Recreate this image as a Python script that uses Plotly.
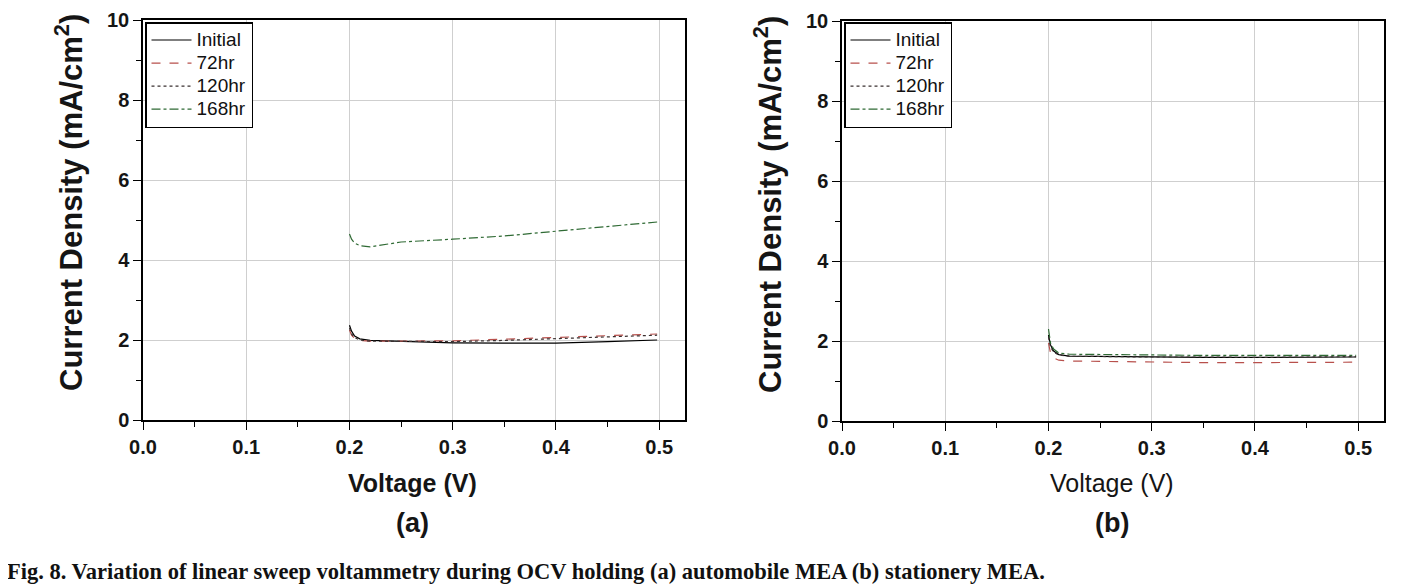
import plotly.graph_objects as go

# ---------------- data ----------------
series_names = ["Initial", "72hr", "120hr", "168hr"]

voltage_a = [0.200, 0.202, 0.205, 0.210, 0.220, 0.250, 0.300, 0.350, 0.400, 0.450, 0.498]
initial_a = [2.37, 2.22, 2.10, 2.03, 1.99, 1.97, 1.93, 1.92, 1.92, 1.96, 2.00]
hr72_a    = [2.25, 2.12, 2.04, 1.99, 1.97, 1.97, 1.98, 2.02, 2.06, 2.10, 2.15]
hr120_a   = [2.30, 2.15, 2.06, 2.00, 1.97, 1.96, 1.96, 1.99, 2.03, 2.07, 2.12]
hr168_a   = [4.65, 4.52, 4.42, 4.36, 4.33, 4.45, 4.52, 4.60, 4.72, 4.83, 4.95]

voltage_b = [0.200, 0.202, 0.205, 0.210, 0.220, 0.250, 0.300, 0.350, 0.400, 0.450, 0.498]
initial_b = [2.15, 1.90, 1.75, 1.66, 1.62, 1.61, 1.60, 1.59, 1.59, 1.59, 1.60]
hr72_b    = [1.95, 1.70, 1.58, 1.52, 1.50, 1.49, 1.47, 1.46, 1.46, 1.46, 1.47]
hr120_b   = [2.10, 1.85, 1.72, 1.65, 1.62, 1.61, 1.60, 1.60, 1.59, 1.60, 1.61]
hr168_b   = [2.30, 1.95, 1.80, 1.70, 1.67, 1.66, 1.65, 1.64, 1.64, 1.64, 1.64]

x_tick_vals = [0.0, 0.1, 0.2, 0.3, 0.4, 0.5]
x_tick_text = ["0.0", "0.1", "0.2", "0.3", "0.4", "0.5"]
y_tick_vals = [0, 2, 4, 6, 8, 10]
y_tick_text = ["0", "2", "4", "6", "8", "10"]

# ---------------- styles ----------------
colors = ["#000000", "#b8504c", "#3a3030", "#2f6a34"]
dashes = ["solid", "dash", "dot", "dashdot"]
SANS = "Liberation Sans, Arial"

# page body has an 8px margin; positions below are given in screen pixels
OFF = 8
FW, FH = 1404 - OFF, 587 - OFF

def px(sx):
    return (sx - OFF) / FW

def py(sy):
    return 1 - (sy - OFF) / FH

fig = go.Figure()

data_a = [initial_a, hr72_a, hr120_a, hr168_a]
data_b = [initial_b, hr72_b, hr120_b, hr168_b]

def legend_label(name):
    return "<span style='font-size:19px'>" + name + "</span>"

for name, ys, c, d in zip(series_names, data_a, colors, dashes):
    fig.add_trace(go.Scatter(x=voltage_a, y=ys, name=legend_label(name), mode="lines",
                             line=dict(color=c, dash=d, width=1.2),
                             xaxis="x", yaxis="y", legend="legend"))
for name, ys, c, d in zip(series_names, data_b, colors, dashes):
    fig.add_trace(go.Scatter(x=voltage_b, y=ys, name=legend_label(name), mode="lines",
                             line=dict(color=c, dash=d, width=1.2),
                             xaxis="x2", yaxis="y2", legend="legend2"))

tickfont = dict(family=SANS, size=20, color="#151515", weight="bold")

def xaxis(domain, anchor):
    return dict(domain=domain, anchor=anchor, range=[0, 0.525], automargin=False,
                tickvals=x_tick_vals, ticktext=x_tick_text,
                ticks="outside", ticklen=8, tickwidth=1.3, tickcolor="#000",
                showline=True, linecolor="#000", linewidth=1.5, mirror=True,
                showgrid=True, gridcolor="#cfcfcf", gridwidth=1.2,
                zeroline=False, tickfont=tickfont,
                minor=dict(dtick=0.05, tick0=0, ticks="outside", ticklen=5,
                           tickwidth=1.2, tickcolor="#000", showgrid=False))

def yaxis(domain, anchor):
    return dict(domain=domain, anchor=anchor, range=[0, 10], automargin=False,
                tickvals=y_tick_vals, ticktext=y_tick_text,
                ticks="outside", ticklen=8, tickwidth=1.3, tickcolor="#000",
                showline=True, linecolor="#000", linewidth=1.5, mirror=True,
                showgrid=True, gridcolor="#cfcfcf", gridwidth=1.2,
                zeroline=False, tickfont=tickfont,
                minor=dict(dtick=1, tick0=0, ticks="outside", ticklen=5,
                           tickwidth=1.2, tickcolor="#000", showgrid=False))

ya_dom = [py(420), py(20)]
yb_dom = [py(421), py(21)]
xa_dom = [px(143), px(685)]
xb_dom = [px(842), px(1384)]

legend_style = dict(font=dict(family=SANS, size=15.4, color="#111"),
                    bgcolor="white", bordercolor="#000", borderwidth=1.5,
                    xanchor="left", yanchor="top", tracegroupgap=0,
                    itemwidth=40)

fig.update_layout(
    template="none",
    width=FW, height=FH,
    margin=dict(l=0, r=0, t=0, b=0, autoexpand=False),
    paper_bgcolor="white", plot_bgcolor="white",
    showlegend=True,
    xaxis=xaxis(xa_dom, "y"),
    yaxis=yaxis(ya_dom, "x"),
    xaxis2=xaxis(xb_dom, "y2"),
    yaxis2=yaxis(yb_dom, "x2"),
    legend=dict(x=px(145), y=py(22), **legend_style),
    legend2=dict(x=px(844), y=py(22), **legend_style),
)

ytitle_font = dict(family=SANS, size=31, color="#151515", weight="bold")
xtitle_font_b = dict(family=SANS, size=25, color="#151515", weight="bold")
xtitle_font_n = dict(family=SANS, size=25, color="#151515")
panel_font = dict(family=SANS, size=27, color="#151515", weight="bold")

annotations = [
    # y-axis titles
    dict(x=px(69), y=py(203), text="Current Density (mA/cm<sup>2</sup>)",
         textangle=-90, font=ytitle_font),
    dict(x=px(768), y=py(205), text="Current Density (mA/cm<sup>2</sup>)",
         textangle=-90, font=ytitle_font),
    # x-axis titles
    dict(x=px(413), y=py(483), text="Voltage (V)", font=xtitle_font_b),
    dict(x=px(1112), y=py(483), text="Voltage (V)", font=xtitle_font_n),
    # panel labels
    dict(x=px(413), y=py(523), text="(a)", font=panel_font),
    dict(x=px(1112), y=py(523), text="(b)", font=panel_font),
    # caption
    dict(x=px(5), y=py(571), xanchor="left",
         text="Fig. 8. Variation of linear sweep voltammetry during OCV holding (a) automobile MEA (b) stationery MEA.",
         font=dict(family="Liberation Serif, Times New Roman", size=22.5, color="#111", weight="bold")),
]
for a in annotations:
    a.setdefault("xref", "paper")
    a.setdefault("yref", "paper")
    a.setdefault("showarrow", False)
    a.setdefault("xanchor", "center")
    a.setdefault("yanchor", "middle")
fig.update_layout(annotations=annotations)

fig.write_html("out.html")
